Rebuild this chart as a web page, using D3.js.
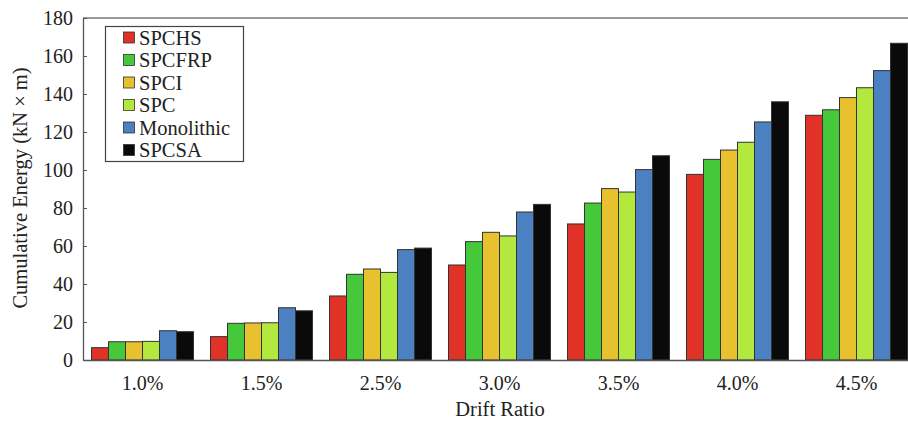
<!DOCTYPE html>
<html><head><meta charset="utf-8">
<script src="https://cdn.jsdelivr.net/npm/d3@7"></script>
<style>body{margin:0;background:#fff}svg{display:block}</style>
</head><body>
<svg id="c" width="908" height="421"></svg>
<script>
const categories = ["1.0%","1.5%","2.5%","3.0%","3.5%","4.0%","4.5%"];
const seriesNames = ["SPCHS","SPCFRP","SPCI","SPC","Monolithic","SPCSA"];
const seriesColors = ["#e03226","#45c93a","#e8c22e","#b3e83f","#4b81c1","#0a0a0a"];
const SPCHS      = [6.5, 12.3, 33.7, 50.0, 71.6, 97.7, 128.8];
const SPCFRP     = [9.6, 19.3, 45.1, 62.3, 82.6, 105.6, 131.7];
const SPCI       = [9.6, 19.5, 47.9, 67.2, 90.2, 110.5, 138.1];
const SPC        = [9.8, 19.6, 46.1, 65.3, 88.4, 114.6, 143.3];
const Monolithic = [15.4, 27.5, 58.1, 77.9, 100.2, 125.3, 152.3];
const SPCSA      = [14.9, 25.9, 58.9, 81.9, 107.5, 135.9, 166.7];
const yTicks = [0,20,40,60,80,100,120,140,160,180];
const seriesValues = [SPCHS, SPCFRP, SPCI, SPC, Monolithic, SPCSA];

(function(){
const FONT = "'Liberation Serif', 'Times New Roman', serif";
const svg = d3.select("#c");
const mLeft = 83, mTop = 18, mBottom = 360, step = 119;
const x0 = d3.scaleBand().domain(categories).range([mLeft, mLeft + step*categories.length])
  .paddingInner(1/7).paddingOuter(1/14);
const x1 = d3.scaleBand().domain(seriesNames).range([0, x0.bandwidth()]);
const y = d3.scaleLinear().domain([0,180]).range([mBottom, mTop]);

// bars
categories.forEach((c, ci) => {
  const g = svg.append("g").attr("transform", `translate(${x0(c)},0)`);
  seriesNames.forEach((s, si) => {
    const v = seriesValues[si][ci];
    g.append("rect").attr("x", x1(s)).attr("y", y(v))
      .attr("width", x1.bandwidth()).attr("height", y(0) - y(v))
      .attr("fill", seriesColors[si]).attr("stroke", "#333").attr("stroke-width", 1);
  });
});

// top frame line
svg.append("line").attr("x1", mLeft).attr("x2", 908).attr("y1", mTop).attr("y2", mTop)
  .attr("stroke", "#777").attr("stroke-width", 1.3);

// y axis
const yAxis = svg.append("g").attr("transform", `translate(${mLeft},0)`)
  .call(d3.axisLeft(y).tickValues(yTicks).tickSizeInner(-4).tickSizeOuter(0).tickPadding(10));
yAxis.select(".domain").attr("stroke", "#555").attr("stroke-width", 1.3);
yAxis.selectAll(".tick line").attr("stroke", "#555");
yAxis.selectAll(".tick text").style("font-size", "20px").style("fill", "#222")
  .style("font-family", FONT);

// x axis
const xAxis = svg.append("g").attr("transform", `translate(0,${mBottom})`)
  .call(d3.axisBottom(x0).tickSize(0).tickPadding(16));
xAxis.select(".domain").attr("stroke", "#555").attr("stroke-width", 1.3);
xAxis.selectAll(".tick text").style("font-size", "20px").style("fill", "#222")
  .style("font-family", FONT);

// axis titles
svg.append("text").attr("x", 500).attr("y", 416).attr("text-anchor", "middle")
  .style("font-family", FONT).style("font-size", "20.5px").style("fill", "#222").text("Drift Ratio");
svg.append("text").attr("transform", "translate(27,188) rotate(-90)").attr("text-anchor", "middle")
  .style("font-family", FONT).style("font-size", "20.5px").style("fill", "#222")
  .text("Cumulative Energy (kN × m)");

// legend
const lg = svg.append("g");
lg.append("rect").attr("x", 105.5).attr("y", 26.5).attr("width", 138).attr("height", 135)
  .attr("fill", "#fff").attr("stroke", "#444").attr("stroke-width", 1.2);
seriesNames.forEach((s, i) => {
  const cy = 37.5 + i * 22.5;
  lg.append("rect").attr("x", 123.5).attr("y", cy - 5.5).attr("width", 11).attr("height", 11)
    .attr("fill", seriesColors[i]).attr("stroke", "#333").attr("stroke-width", 0.8);
  lg.append("text").attr("x", 139).attr("y", cy + 7)
    .style("font-family", FONT).style("font-size", "20.5px").style("fill", "#222").text(s);
});
})();
</script>
</body></html>
